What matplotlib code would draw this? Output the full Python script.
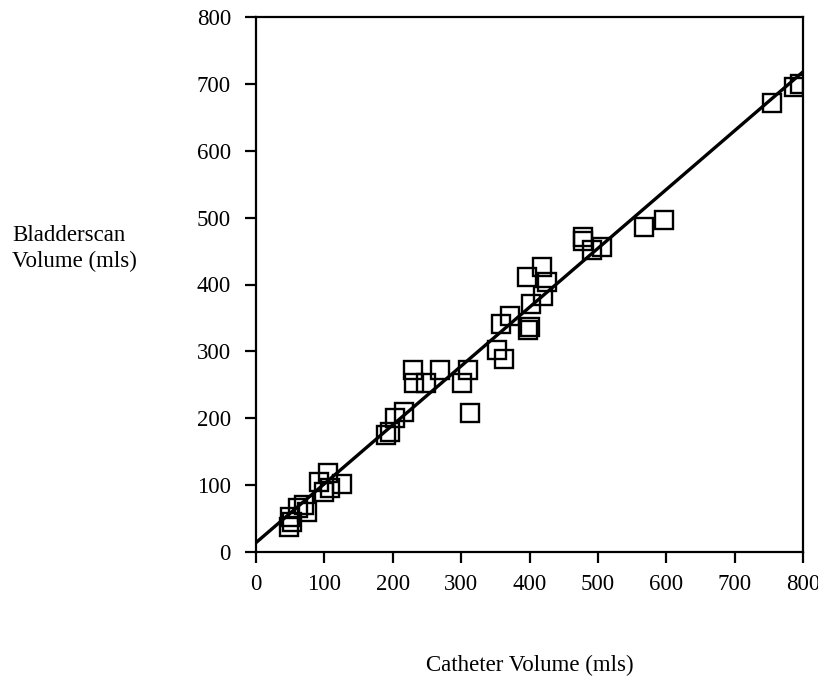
import numpy as np
from matplotlib import pyplot as plt

plt.rcParams['font.family'] = ['Liberation Serif', 'DejaVu Serif']

# catheter volume (x) vs bladderscan volume (y), mls
catheter = [48, 52, 50, 62, 70, 75, 92, 105, 108, 100, 126,
            190, 196, 203, 216, 229, 231, 248, 269, 302, 310, 313,
            352, 362, 359, 371, 398, 401, 402, 420, 425, 396, 418,
            478, 478, 506, 491, 567, 597, 754, 787, 795]
bladderscan = [38, 45, 52, 66, 70, 60, 105, 118, 95, 90, 102,
               175, 180, 200, 210, 272, 252, 252, 272, 252, 272, 208,
               302, 289, 341, 353, 332, 336, 371, 383, 403, 411, 426,
               471, 465, 456, 451, 486, 497, 671, 695, 700]

# regression line
fit_x = [0, 800]
intercept, slope = 14, 0.88

ticks = [0, 100, 200, 300, 400, 500, 600, 700, 800]

fig = plt.figure(figsize=(8.18, 6.79), dpi=100)
ax = fig.add_axes([256/818, 1-552/679, (803-256)/818, (552-17)/679])

ax.plot(catheter, bladderscan, linestyle='none', marker='s', markersize=13.5,
        markerfacecolor='none', markeredgecolor='black', markeredgewidth=1.7)
fx = np.array(fit_x)
ax.plot(fx, intercept + slope*fx, color='black', lw=2.4)

ax.set_xlim(0, 800)
ax.set_ylim(0, 800)
ax.set_xticks(ticks)
ax.set_yticks(ticks)
ax.tick_params(direction='out', length=8, width=1.6, labelsize=16.5)
ax.tick_params(axis='x', pad=8)
ax.tick_params(axis='y', pad=10)
for s in ax.spines.values():
    s.set_linewidth(1.6)

ax.set_xlabel('Catheter Volume (mls)', fontsize=16.5, labelpad=43)
fig.text(12/818, 1-249/679, 'Bladderscan\nVolume (mls)', fontsize=16.5,
         ha='left', va='center', linespacing=1.3)

fig.savefig('out.png', dpi=100)
